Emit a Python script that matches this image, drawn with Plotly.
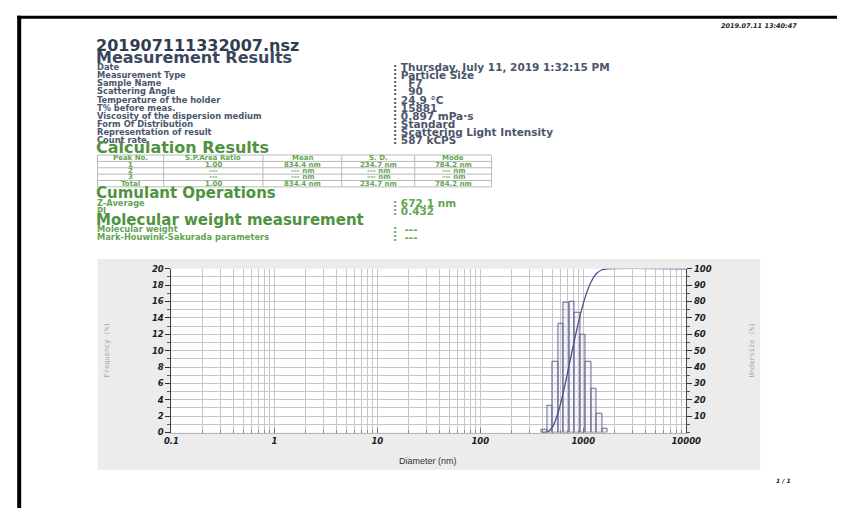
import numpy as np
import plotly.graph_objects as go

W, H = 852, 513

# Particle size distribution (scattering light intensity basis)
diameter_nm = [420.3, 475.1, 537.0, 607.0, 686.2, 775.6, 876.7, 990.8, 1120.0, 1266.0, 1430.9, 1617.4]
frequency_pct = [0.3, 3.3, 8.7, 13.3, 15.8, 16.0, 14.6, 12.0, 8.7, 5.3, 2.3, 0.5]

# Cumulative undersize curve
undersize_d_nm = [395.4, 446.9, 505.1, 570.9, 645.3, 729.5, 824.5, 932.0, 1053.4, 1190.7, 1345.9, 1521.3, 1719.6, 10000]
undersize_pct = [0, 0.3, 3.6, 12.2, 25.4, 41.1, 56.9, 71.4, 83.3, 91.9, 97.1, 99.4, 100, 100]

x_tick_vals = [0.1, 1, 10, 100, 1000, 10000]
x_tick_text = ["0.1", "1", "10", "100", "1000", "10000"]

info_labels = ["Date", "Measurement Type", "Sample Name", "Scattering Angle",
               "Temperature of the holder", "T% before meas.",
               "Viscosity of the dispersion medium", "Form Of Distribution",
               "Representation of result", "Count rate"]
info_values = [": Thursday, July 11, 2019 1:32:15 PM", ": Particle Size", ":   F7", ":   90",
               ": 24.9 \u00b0C", ": 15881", ": 0.897 mPa\u00b7s", ": Standard",
               ": Scattering Light Intensity", ": 587 kCPS"]

table_header = ["Peak No.", "S.P.Area Ratio", "Mean", "S. D.", "Mode"]
table_rows = [
    ["1", "1.00", "834.4 nm", "234.7 nm", "784.2 nm"],
    ["2", "---", "--- nm", "--- nm", "--- nm"],
    ["3", "---", "--- nm", "--- nm", "--- nm"],
    ["Total", "1.00", "834.4 nm", "234.7 nm", "784.2 nm"],
]

cumulant_labels = ["Z-Average", "PI"]
cumulant_values = [": 672.1 nm", ": 0.432"]
mw_labels = ["Molecular weight", "Mark-Houwink-Sakurada parameters"]
mw_values = [":  ---", ":  ---"]

SLATE = "#3a475f"
LABEL = "#4b566c"
GREEN = "#4f9340"
GREEN_T = "#63a553"
FONT = "DejaVu Sans"


def px(x):
    return x / W


def py(y):
    return 1 - y / H


annotations = []
shapes = []


def text(x, y, s, size, color, anchor="left", weight="bold", style="normal", family=FONT, angle=0):
    annotations.append(dict(
        x=px(x), y=py(y), xref="paper", yref="paper", text=s, showarrow=False,
        xanchor=anchor, yanchor="middle", textangle=angle, borderpad=0,
        font=dict(family=family, size=size, color=color, weight=weight, style=style)))


# page frame
shapes.append(dict(type="line", xref="paper", yref="paper", x0=px(9.5), x1=1, y0=py(12.5), y1=py(12.5),
                    line=dict(color="black", width=3)))
shapes.append(dict(type="line", xref="paper", yref="paper", x0=px(11.5), x1=px(11.5), y0=py(11), y1=0,
                    line=dict(color="black", width=4)))

# chart panel and plotting area
shapes.append(dict(type="rect", xref="paper", yref="paper", x0=px(92), x1=px(773), y0=py(259), y1=py(474),
                    fillcolor="#ececec", line=dict(width=0), layer="below"))
shapes.append(dict(type="rect", xref="paper", yref="paper", x0=px(168), x1=px(697), y0=py(269), y1=py(436),
                    fillcolor="white", line=dict(width=0), layer="below"))

# header block
text(812, 21, "2019.07.11 13:40:47", 6.5, "#222", anchor="right", style="italic")
text(89, 41.5, "201907111332007.nsz", 16, "#323c4f")
text(89, 53.5, "Measurement Results", 16, SLATE)
for i, (lab, val) in enumerate(zip(info_labels, info_values)):
    y = 63.3 + 8.3 * i
    text(90, y, lab, 8.3, LABEL)
    text(395, y, val, 10.5, LABEL)

# calculation results table
text(89, 145.5, "Calculation Results", 16, GREEN)
col_edges = [92, 160, 262, 343, 418, 497]
row_edges = [153, 159.5, 166, 172.5, 179, 185.5]
for xe in col_edges:
    shapes.append(dict(type="line", xref="paper", yref="paper", x0=px(xe), x1=px(xe),
                        y0=py(row_edges[0]), y1=py(row_edges[-1]), line=dict(color="#b9b9b9", width=1)))
for ye in row_edges:
    shapes.append(dict(type="line", xref="paper", yref="paper", x0=px(col_edges[0]), x1=px(col_edges[-1]),
                        y0=py(ye), y1=py(ye), line=dict(color="#b9b9b9", width=1)))
for r, row in enumerate([table_header] + table_rows):
    yc = (row_edges[r] + row_edges[r + 1]) / 2
    for c, cell in enumerate(row):
        xc = (col_edges[c] + col_edges[c + 1]) / 2
        text(xc, yc, cell, 7, GREEN_T, anchor="center")

text(89, 191.5, "Cumulant Operations", 15, GREEN)
for i, (lab, val) in enumerate(zip(cumulant_labels, cumulant_values)):
    y = 201.5 + 8.3 * i
    text(90, y, lab, 8.3, GREEN_T)
    text(395, y, val, 10.5, GREEN_T)
text(89, 219, "Molecular weight measurement", 15, GREEN)
for i, (lab, val) in enumerate(zip(mw_labels, mw_values)):
    y = 228.5 + 8.5 * i
    text(90, y, lab, 8.3, GREEN_T)
    text(395, y, val, 10.5, GREEN_T)

# axis titles
text(102, 352, "Frequency (%)", 7, "#a3a3a3", anchor="center", weight="normal",
     family="DejaVu Sans Mono", angle=-90)
text(765, 352, "Undersize (%)", 7, "#a3a3a3", anchor="center", weight="normal",
     family="DejaVu Sans Mono", angle=-90)
text(432, 465, "Diameter (nm)", 9, "#333", anchor="center", weight="normal", family="Liberation Sans")
text(797, 485, "1 / 1", 6, "#222", anchor="center", style="italic")

# log-diameter coordinates on a linear axis
log_d = np.log10(diameter_nm)
edges = np.log10(undersize_d_nm)
bar_w = np.diff(edges[:13])

minor_vals = [np.log10(k * 10.0 ** n) for n in range(-1, 4) for k in range(2, 10)]

fig = go.Figure()
fig.add_trace(go.Bar(
    x=log_d, y=frequency_pct, width=bar_w, yaxis="y",
    marker=dict(color="rgba(200,200,235,0.18)", line=dict(color="#66688a", width=1)),
    showlegend=False, hoverinfo="skip"))
fig.add_trace(go.Scatter(
    x=edges, y=undersize_pct, yaxis="y2", mode="lines",
    line=dict(color="#4b4f8c", width=1.3, shape="spline", smoothing=0.7),
    showlegend=False, hoverinfo="skip"))

tick_font = dict(family=FONT, size=8.5, color="#1e1e1e", weight="bold", style="italic")

fig.update_layout(
    width=W, height=H, autosize=False,
    margin=dict(l=0, r=0, t=0, b=0),
    paper_bgcolor="white", plot_bgcolor="rgba(0,0,0,0)",
    bargap=0,
    annotations=annotations, shapes=shapes,
    xaxis=dict(
        domain=[px(168), px(697)], range=[-1, 4], type="linear",
        tickmode="array", tickvals=np.log10(x_tick_vals), ticktext=x_tick_text,
        ticks="inside", ticklen=5, tickcolor="#777", tickfont=tick_font,
        showgrid=True, gridcolor="#c6c6c6", gridwidth=1,
        minor=dict(tickmode="array", tickvals=minor_vals, ticks="inside", ticklen=3,
                   tickcolor="#888", showgrid=True, gridcolor="#c6c6c6", gridwidth=1),
        showline=True, linecolor="#b5b5b5", linewidth=1, zeroline=False, fixedrange=True),
    yaxis=dict(
        domain=[py(436), py(269)], range=[0, 20], tickmode="linear", tick0=0, dtick=2,
        ticks="outside", ticklen=5, tickcolor="#333", tickfont=tick_font,
        showgrid=True, gridcolor="#c6c6c6", gridwidth=1,
        minor=dict(dtick=1, ticks="outside", ticklen=3, tickcolor="#555",
                   showgrid=True, gridcolor="#c6c6c6"),
        showline=True, linecolor="#444", linewidth=1, zeroline=False, fixedrange=True),
    yaxis2=dict(
        overlaying="y", side="right", anchor="x", range=[0, 100],
        tickmode="array", tickvals=list(range(10, 101, 10)),
        ticks="outside", ticklen=5, tickcolor="#333", tickfont=tick_font,
        minor=dict(dtick=5, tick0=0, ticks="outside", ticklen=3, tickcolor="#555"),
        showgrid=False, showline=True, linecolor="#444", linewidth=1, zeroline=False, fixedrange=True),
)

fig.write_html("out.html", config={"displayModeBar": False})
